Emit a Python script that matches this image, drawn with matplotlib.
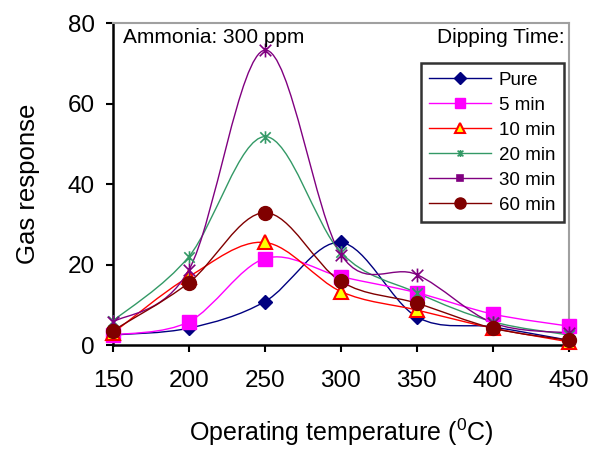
import numpy as np
import matplotlib
matplotlib.use("Agg")
import matplotlib.pyplot as plt
from matplotlib.path import Path
from matplotlib.patches import PathPatch
from matplotlib.lines import Line2D

plt.rcParams['font.family'] = ['Liberation Sans', 'DejaVu Sans']
plt.rcParams['mathtext.fontset'] = 'custom'
plt.rcParams['mathtext.rm'] = 'Liberation Sans'

temps = [150, 200, 250, 300, 350, 400, 450]
series_names = ['Pure', '5 min', '10 min', '20 min', '30 min', '60 min']
pure = [2.5, 4.2, 10.8, 25.5, 7.0, 4.5, 1.2]
min5 = [2.5, 5.8, 21.5, 17.0, 13.0, 7.7, 4.7]
min10 = [3.0, 17.0, 25.5, 13.3, 8.7, 4.2, 0.8]
min20 = [6.0, 22.0, 51.8, 23.0, 13.0, 5.8, 2.5]
min30 = [5.7, 18.7, 73.3, 22.5, 17.5, 5.5, 3.0]
min60 = [3.6, 15.5, 32.9, 15.8, 10.4, 4.2, 1.2]
values = [pure, min5, min10, min20, min30, min60]

star = Path([(-1, -1), (1, 1), (-1, 1), (1, -1), (0, -1.2), (0, 1.2)],
            [Path.MOVETO, Path.LINETO, Path.MOVETO, Path.LINETO, Path.MOVETO, Path.LINETO])

styles = [
    dict(color='#000080', marker='D', ms=7.5, mfc='#000080', mec='#000080', mew=1,
         lmarker='D', lms=6),
    dict(color='#FF00FF', marker='s', ms=9.5, mfc='#FF00FF', mec='#FF00FF', mew=1,
         lmarker='s', lms=7),
    dict(color='#FF0000', marker='^', ms=10, mfc='#FFFF00', mec='#FF0000', mew=1.5,
         lmarker='^', lms=7.5),
    dict(color='#339966', marker=star, ms=9, mfc='none', mec='#339966', mew=1.2,
         lmarker=star, lms=5),
    dict(color='#800080', marker=star, ms=10, mfc='none', mec='#800080', mew=1.2,
         lmarker='s', lms=5),
    dict(color='#800000', marker='o', ms=10, mfc='#800000', mec='#800000', mew=1,
         lmarker='o', lms=8),
]


def smooth_path(x, y):
    pts = np.column_stack([x, y]).astype(float)
    n = len(pts)
    verts = [pts[0]]
    codes = [Path.MOVETO]
    for i in range(n - 1):
        p0 = pts[i - 1] if i > 0 else pts[i]
        p1 = pts[i]
        p2 = pts[i + 1]
        p3 = pts[i + 2] if i + 2 < n else pts[i + 1]
        c1 = p1 + (p2 - p0) / 6.0
        c2 = p2 - (p3 - p1) / 6.0
        verts += [c1, c2, p2]
        codes += [Path.CURVE4] * 3
    return Path(verts, codes)


fig = plt.figure(figsize=(5.9, 4.54), dpi=100)
ax = fig.add_axes([0.1915, 0.240, 0.7725, 0.709])

for name, vals, st in zip(series_names, values, styles):
    path = smooth_path(temps, vals)
    ax.add_patch(PathPatch(path, facecolor='none', edgecolor=st['color'], lw=1.0, zorder=2))
    ax.plot(temps, vals, linestyle='none', marker=st['marker'], ms=st['ms'],
            mfc=st['mfc'], mec=st['mec'], mew=st['mew'], clip_on=False, zorder=3)

ax.set_xlim(150, 450)
ax.set_ylim(0, 80)
ax.set_xticks(temps)
ax.set_yticks([0, 20, 40, 60, 80])
ax.tick_params(direction='out', length=5, width=1.5, labelsize=17.5)
ax.tick_params(axis='y', pad=8)
ax.tick_params(axis='x', pad=13)
for s in ['left', 'bottom']:
    ax.spines[s].set_linewidth(1.8)
    ax.spines[s].set_color('black')
for s in ['top', 'right']:
    ax.spines[s].set_linewidth(1.5)
    ax.spines[s].set_color('#A0A0A0')

ax.set_xlabel('Operating temperature ($^{0}$C)', fontsize=18, labelpad=18)
ax.set_ylabel('Gas response', fontsize=18.5, labelpad=20)

ax.text(0.022, 0.985, 'Ammonia: 300 ppm', transform=ax.transAxes, fontsize=15,
        ha='left', va='top')
ax.text(0.991, 0.985, 'Dipping Time:', transform=ax.transAxes, fontsize=15,
        ha='right', va='top')

handles = [Line2D([0], [0], color=st['color'], lw=1.0, marker=st['lmarker'],
                  ms=st['lms'], mfc=st['mfc'] if st['lmarker'] is not star else 'none',
                  mec=st['mec'], mew=st['mew'])
           for st in styles]
handles[4].set_markerfacecolor('#800080')
leg = ax.legend(handles, series_names, loc='upper right', bbox_to_anchor=(0.989, 0.876),
                fontsize=13.5, frameon=True, fancybox=False, edgecolor='black',
                handlelength=3.3, borderpad=0.45, labelspacing=0.42, handletextpad=0.4,
                borderaxespad=0)
leg.get_frame().set_linewidth(1.8)

fig.savefig('out.png', dpi=100)
